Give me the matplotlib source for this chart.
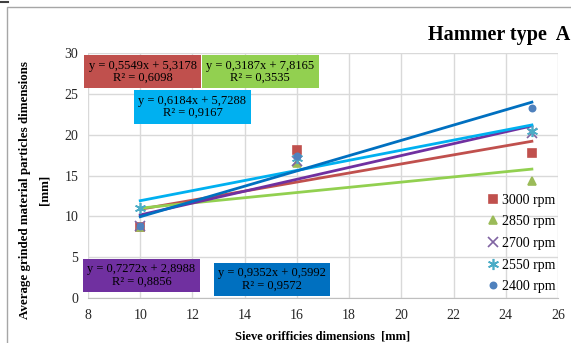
import matplotlib
matplotlib.use("Agg")
import matplotlib.pyplot as plt
from matplotlib.patches import Rectangle
from matplotlib.lines import Line2D
import numpy as np

# sieve sizes [mm]
sieve = [10, 16, 25]

# measured particle sizes for each rotor speed
speeds = ["3000 rpm", "2850 rpm", "2700 rpm", "2550 rpm", "2400 rpm"]
y3000 = [8.7, 18.1, 17.8]
y2850 = [8.7, 16.5, 14.3]
y2700 = [8.8, 16.8, 20.2]
y2550 = [11.0, 17.2, 20.5]
y2400 = [8.8, 17.4, 23.3]

# trendline coefficients shown on the chart
slopes = [0.5549, 0.3187, 0.7272, 0.6184, 0.9352]
intercepts = [5.3178, 7.8165, 2.8988, 5.7288, 0.5992]
r2 = [0.6098, 0.3535, 0.8856, 0.9167, 0.9572]

series = [y3000, y2850, y2700, y2550, y2400]
marker_colors = ["#C0504D", "#9BBB59", "#8064A2", "#4BACC6", "#4F81BD"]
line_colors = ["#C0504D", "#92D050", "#7030A0", "#00B0F0", "#0070C0"]
markers = ["s", "^", "x", (6, 2, 0), "o"]
msizes = [6, 6, 7, 8, 4.5]
# label box positions (data coords)
box_pos = [(10.1, 27.7), (14.6, 27.7), (10.05, 2.8), (12.0, 23.4), (15.05, 2.3)]

plt.rcParams['font.family'] = ['Liberation Serif', 'DejaVu Serif']

fig = plt.figure(figsize=(5.71, 3.43), dpi=100)
ax = fig.add_axes([88/571, 1-298/343, 470/571, 245/343])

xl = np.array([sieve[0], sieve[-1]])
for i in range(5):
    ax.plot(xl, slopes[i]*xl + intercepts[i], color=line_colors[i], lw=2, zorder=3)
for i in range(5):
    ax.plot(sieve, series[i], ls="none", marker=markers[i], ms=msizes[i],
            color=marker_colors[i], mec=marker_colors[i], mew=1.2,
            label=speeds[i], zorder=4)

for i in range(5):
    txt = "y = %sx + %s\nR² = %s" % (
        ("%.4f" % slopes[i]).replace(".", ","),
        ("%.4f" % intercepts[i]).replace(".", ","),
        ("%.4f" % r2[i]).replace(".", ","))
    ax.text(box_pos[i][0], box_pos[i][1], txt, ha="center", va="center",
            fontsize=9, linespacing=1.05, zorder=6,
            bbox=dict(boxstyle="square,pad=0.35", fc=line_colors[i], ec="none"))

ax.set_xlim(8, 26)
ax.set_ylim(0, 30)
ax.set_xticks(range(8, 27, 2))
ax.set_yticks(range(0, 31, 5))
ax.grid(True, color="#D9D9D9", lw=1)
ax.set_axisbelow(True)
for s in ["top", "right", "left"]:
    ax.spines[s].set_visible(False)
ax.spines["bottom"].set_color("#BFBFBF")
ax.tick_params(length=0, labelsize=10, colors="#262626")
ax.tick_params(axis="x", pad=8)
ax.tick_params(axis="y", pad=7)

ax.set_xlabel("Sieve orifficies dimensions  [mm]", fontsize=9, fontweight="bold", labelpad=6)
# y label drawn as two lines, centred on the chart like in Excel
fig.text(25/571, 1-190/343, "Average grinded material particles dimensions", rotation=90,
         fontsize=9.4, fontweight="bold", ha="center", va="center")
fig.text(44/571, 1-190/343, "[mm]", rotation=90,
         fontsize=9.4, fontweight="bold", ha="center", va="center")

leg = ax.legend(loc="lower right", bbox_to_anchor=(1.015, -0.02), frameon=False,
                fontsize=10, handletextpad=0.0, labelspacing=0.62, handlelength=1.2,
                borderaxespad=0.3)

fig.text(0.998, 1-35/343, "Hammer type  A", fontsize=14.5, fontweight="bold",
         va="center", ha="right")

# chart frame
fig.add_artist(Rectangle((7/571, -0.05), 1.1, 1-7/343+0.05, transform=fig.transFigure,
                         fill=False, ec="#A6A6A6", lw=1))
fig.add_artist(Line2D([0, 8/571], [1-2/343, 1-2/343], transform=fig.transFigure,
                      color="#404040", lw=1.5))

fig.savefig("out.png", dpi=100)
